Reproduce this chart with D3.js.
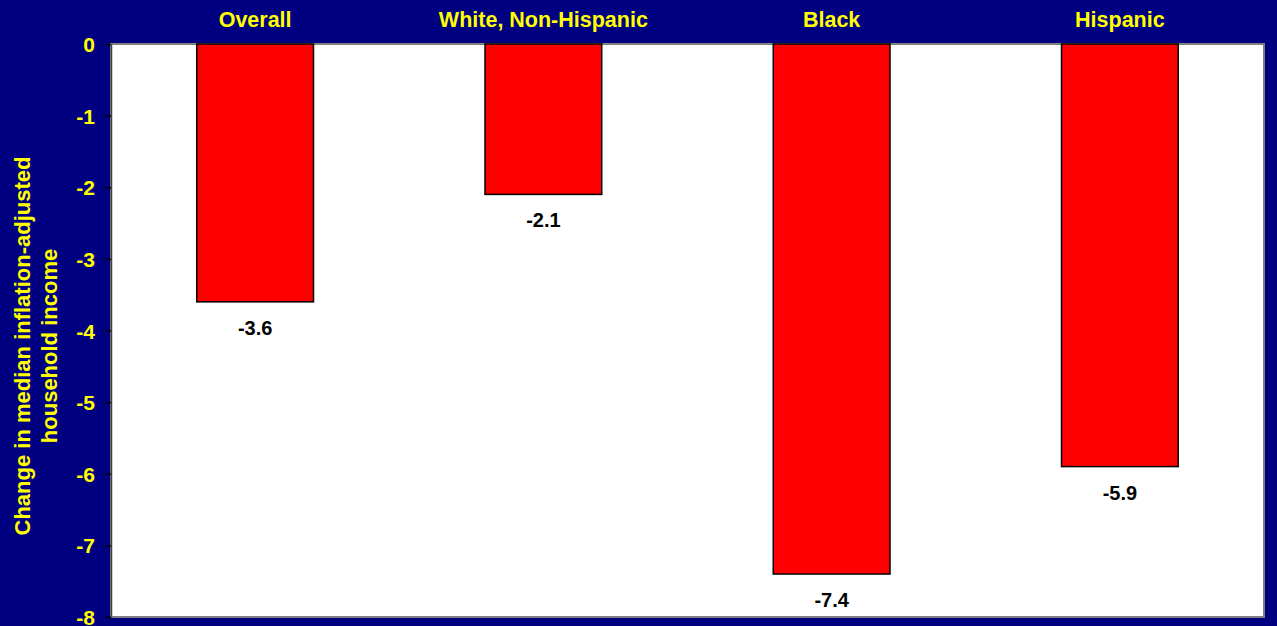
<!DOCTYPE html>
<html>
<head>
<meta charset="utf-8">
<script src="https://cdn.jsdelivr.net/npm/d3@7"></script>
<style>
  body { margin: 0; background: #000080; }
  svg { display: block; }
  text { font-family: Arial, "Liberation Sans", sans-serif; font-weight: bold; }
</style>
</head>
<body>
<svg id="chart"></svg>
<script>
var svgWidth = 1277;
var svgHeight = 626;

var groups = ['Overall', 'White, Non-Hispanic', 'Black', 'Hispanic'];
var changes = [-3.6, -2.1, -7.4, -5.9];
var yTicks = [0, -1, -2, -3, -4, -5, -6, -7, -8];
var yTitle = ['Change in median inflation-adjusted', 'household income'];

var plotLeft = 111, plotRight = 1264, plotTop = 44, plotBottom = 617;

var svg = d3.select('#chart')
	.attr('width', svgWidth)
	.attr('height', svgHeight);

svg.append('rect')
	.attr('width', svgWidth)
	.attr('height', svgHeight)
	.attr('fill', '#000080');

var xScale = d3.scaleBand()
	.domain(groups)
	.range([plotLeft, plotRight])
	.paddingInner(0.595)
	.paddingOuter(0.2975);

var yScale = d3.scaleLinear()
	.domain([0, -8])
	.range([plotTop, plotBottom]);

// plot area
svg.append('rect')
	.attr('x', plotLeft)
	.attr('y', plotTop)
	.attr('width', plotRight - plotLeft)
	.attr('height', plotBottom - plotTop)
	.attr('fill', 'white')
	.attr('stroke', '#808080')
	.attr('stroke-width', 2);

// y axis
var yAxis = d3.axisLeft(yScale)
	.tickValues(yTicks)
	.tickFormat(d => String(d))
	.tickSize(6)
	.tickSizeOuter(0)
	.tickPadding(10);

var gy = svg.append('g')
	.attr('transform', `translate(${plotLeft},0)`)
	.call(yAxis);
gy.select('.domain').attr('stroke', '#404040').attr('stroke-width', 1.5);
gy.selectAll('.tick line').attr('stroke', 'black').attr('stroke-width', 1.5);
gy.selectAll('.tick text')
	.attr('fill', '#ffff00')
	.attr('font-size', 21)
	.attr('dy', '0.36em')
	.style('font-family', 'Arial, "Liberation Sans", sans-serif')
	.style('font-weight', 'bold');

// bars
svg.selectAll('rect.bar')
	.data(groups)
	.enter()
	.append('rect')
	.attr('class', 'bar')
	.attr('x', d => xScale(d))
	.attr('y', yScale(0))
	.attr('width', xScale.bandwidth())
	.attr('height', (d, i) => yScale(changes[i]) - yScale(0))
	.attr('fill', '#ff0000')
	.attr('stroke', 'black')
	.attr('stroke-width', 1.5);

// value labels
svg.selectAll('text.val')
	.data(groups)
	.enter()
	.append('text')
	.attr('class', 'val')
	.attr('x', d => xScale(d) + xScale.bandwidth() / 2)
	.attr('y', (d, i) => yScale(changes[i]) + 33)
	.attr('text-anchor', 'middle')
	.attr('font-size', 20)
	.attr('fill', 'black')
	.text((d, i) => changes[i].toFixed(1));

// category labels on top
svg.selectAll('text.cat')
	.data(groups)
	.enter()
	.append('text')
	.attr('class', 'cat')
	.attr('x', d => xScale(d) + xScale.bandwidth() / 2)
	.attr('y', 27)
	.attr('text-anchor', 'middle')
	.attr('font-size', 21.5)
	.attr('fill', '#ffff00')
	.text(d => d);

// y title
svg.append('text')
	.attr('transform', 'translate(30,346) rotate(-90)')
	.attr('text-anchor', 'middle')
	.attr('font-size', 22)
	.attr('fill', '#ffff00')
	.selectAll('tspan')
	.data(yTitle)
	.enter()
	.append('tspan')
	.attr('x', 0)
	.attr('dy', (d, i) => i === 0 ? 0 : 27)
	.text(d => d);
</script>
</body>
</html>
